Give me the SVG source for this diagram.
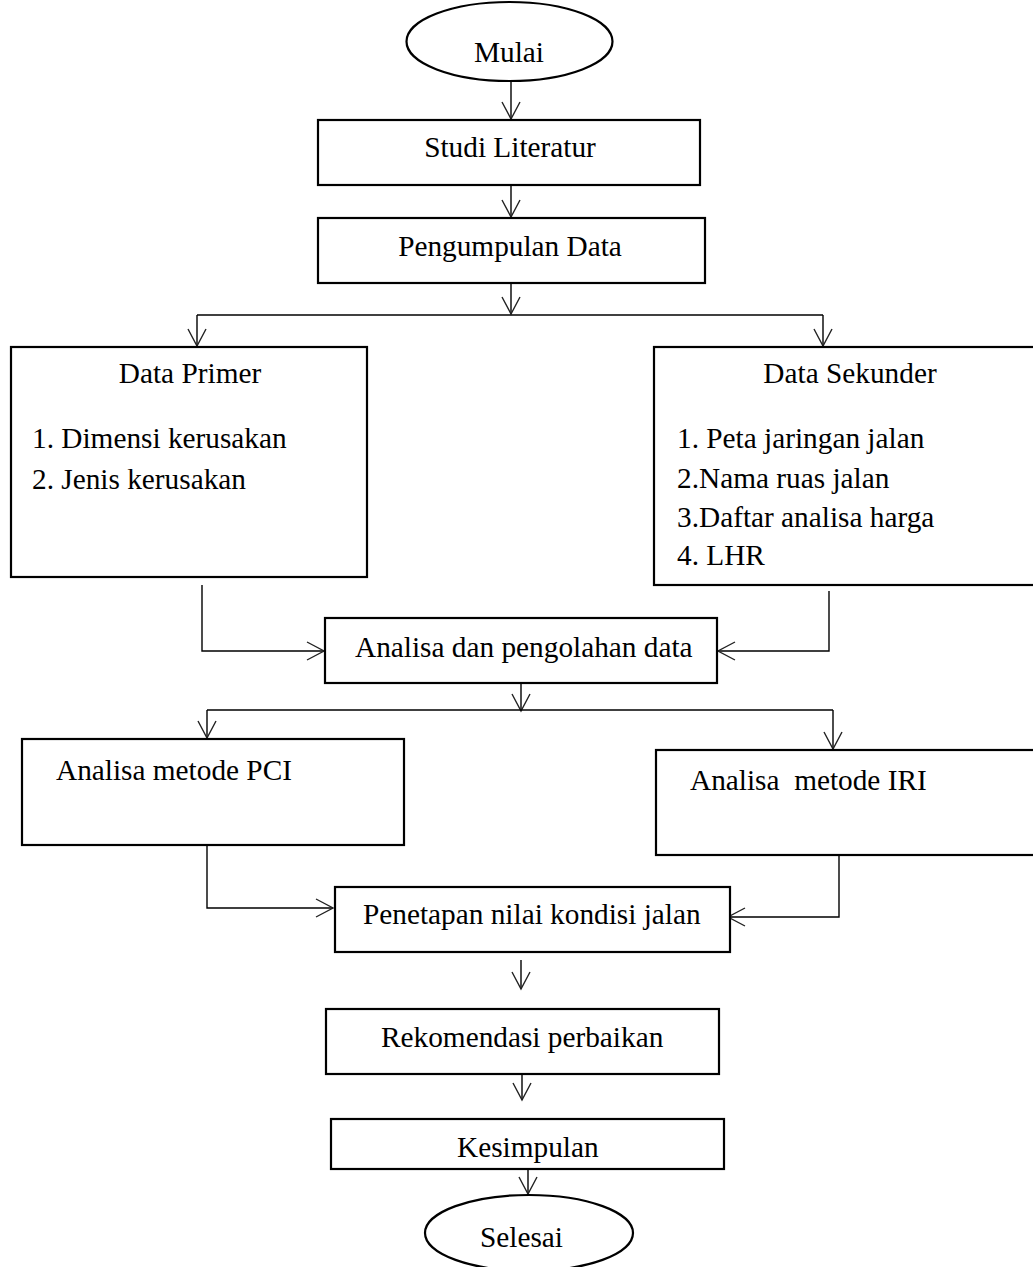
<svg xmlns="http://www.w3.org/2000/svg" width="1033" height="1267" viewBox="0 0 1033 1267">
<defs>
<marker id="ah" markerUnits="userSpaceOnUse" markerWidth="24" markerHeight="24" viewBox="-20 -12 24 24" refX="0" refY="0" orient="auto" overflow="visible">
<path d="M-17,-9 L0,0 L-17,9" fill="none" stroke="#222" stroke-width="1.4"/>
</marker>
<style>
.box{fill:#fff;stroke:#000;stroke-width:2.2}
.t{font-family:"Liberation Serif","Times New Roman",serif;font-size:29.3px;fill:#000}
.c{text-anchor:middle}
.ln{fill:none;stroke:#000;stroke-width:1.4}
.ar{fill:none;stroke:#000;stroke-width:1.4;marker-end:url(#ah)}
</style>
</defs>
<rect width="1033" height="1267" fill="#fff"/>
<g id="connectors">
<path class="ar" d="M511,81 V119"/>
<path class="ar" d="M511,185 V217"/>
<path class="ar" d="M511,283 V314"/>
<path class="ln" d="M197,315 H823"/>
<path class="ar" d="M197,315 V346"/>
<path class="ar" d="M823,315 V346"/>
<path class="ar" d="M202,585 V651 H324"/>
<path class="ar" d="M829,591 V651 H718"/>
<path class="ar" d="M521,683 V711"/>
<path class="ln" d="M207,710 H833"/>
<path class="ar" d="M207,710 V738"/>
<path class="ar" d="M833,710 V749"/>
<path class="ar" d="M207,845 V908 H333"/>
<path class="ar" d="M839,855 V917 H728"/>
<path class="ar" d="M521,960 V989"/>
<path class="ar" d="M522,1070 V1100"/>
<path class="ar" d="M528,1169 V1194"/>
</g>
<g id="mulai">
<ellipse class="box" cx="509.5" cy="41.5" rx="103" ry="39.5"/>
<text class="t c" x="509" y="62">Mulai</text>
</g>
<g id="studi">
<rect class="box" x="318" y="120" width="382" height="65"/>
<text class="t c" x="510" y="157">Studi Literatur</text>
</g>
<g id="pengumpulan">
<rect class="box" x="318" y="218" width="387" height="65"/>
<text class="t c" x="510" y="256">Pengumpulan Data</text>
</g>
<g id="primer">
<rect class="box" x="11" y="347" width="356" height="230"/>
<text class="t c" x="190" y="383">Data Primer</text>
<text class="t" x="32" y="448">1. Dimensi kerusakan</text>
<text class="t" x="32" y="489">2. Jenis kerusakan</text>
</g>
<g id="sekunder">
<rect class="box" x="654" y="347" width="400" height="238"/>
<text class="t c" x="850" y="383">Data Sekunder</text>
<text class="t" x="677" y="448">1. Peta jaringan jalan</text>
<text class="t" x="677" y="488">2.Nama ruas jalan</text>
<text class="t" x="677" y="527">3.Daftar analisa harga</text>
<text class="t" x="677" y="565">4. LHR</text>
</g>
<g id="analisa">
<rect class="box" x="325" y="618" width="392" height="65"/>
<text class="t" x="355" y="657">Analisa dan pengolahan data</text>
</g>
<g id="pci">
<rect class="box" x="22" y="739" width="382" height="106"/>
<text class="t" x="56" y="780">Analisa metode PCI</text>
</g>
<g id="iri">
<rect class="box" x="656" y="750" width="400" height="105"/>
<text class="t" x="690" y="790" xml:space="preserve" style="white-space:pre">Analisa  metode IRI</text>
</g>
<g id="penetapan">
<rect class="box" x="335" y="887" width="395" height="65"/>
<text class="t" x="363" y="924">Penetapan nilai kondisi jalan</text>
</g>
<g id="rekomendasi">
<rect class="box" x="326" y="1009" width="393" height="65"/>
<text class="t" x="381" y="1047">Rekomendasi perbaikan</text>
</g>
<g id="kesimpulan">
<rect class="box" x="331" y="1119" width="393" height="50"/>
<text class="t" x="457" y="1157">Kesimpulan</text>
</g>
<g id="selesai">
<ellipse class="box" cx="529" cy="1233" rx="104" ry="38"/>
<text class="t" x="480" y="1247">Selesai</text>
</g>
</svg>
